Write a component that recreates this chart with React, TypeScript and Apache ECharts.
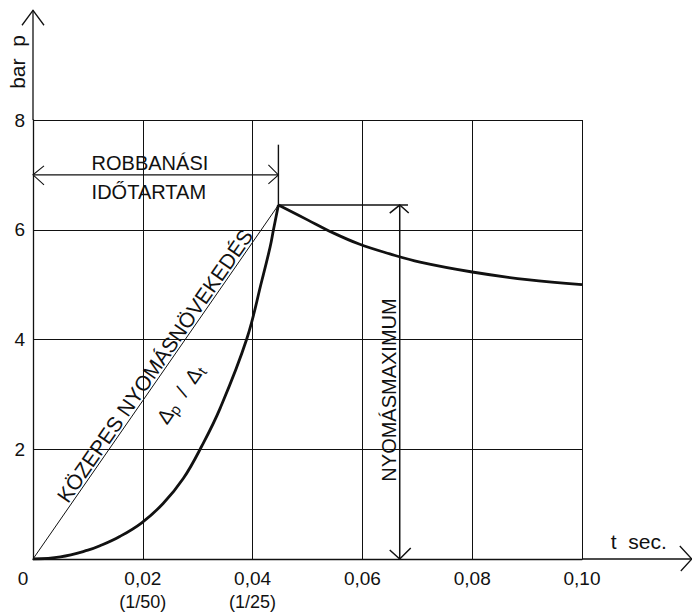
import React, { useEffect, useRef } from 'react';
import * as echarts from 'echarts';

// ---- data ----
const xTickLabels = ['', '0,02', '0,04', '0,06', '0,08', '0,10'];
const xTickSubLabels = ['', '(1/50)', '(1/25)', '', '', ''];
const yTickLabels = ['', '2', '4', '6', '8'];

// pressure rise during the explosion (t in s, p in bar)
const riseT = [0, 0.005, 0.01, 0.0122, 0.0158, 0.0198, 0.0237, 0.0274, 0.0307, 0.0341, 0.0389, 0.0417, 0.0432, 0.0438, 0.0447];
const riseP = [0, 0.04, 0.16, 0.24, 0.41, 0.66, 1.01, 1.47, 2.05, 2.75, 4.0, 5.08, 5.69, 6.0, 6.45];
// pressure decay after the maximum
const decayT = [0.0447, 0.05, 0.0541, 0.0594, 0.065, 0.0705, 0.08, 0.09, 0.1];
const decayP = [6.45, 6.18, 5.97, 5.74, 5.56, 5.41, 5.23, 5.09, 5.0];

// annotation anchor values (data space)
const durationLevelP = 7.0;
const peakTickTopP = 7.55;
const maxDimT = 0.0668;
const maxExtEndT = 0.0683;
const xAxisEndT = 0.12;
const yAxisEndP = 10;

const FONT = '"Liberation Sans", Arial, sans-serif';
const INK = '#111';

export default function App() {
  const ref = useRef<HTMLDivElement>(null);
  useEffect(() => {
    document.body.style.margin = '0';
    const chart = echarts.init(ref.current!, null, { renderer: 'svg' });
    const peakT = riseT[riseT.length - 1];
    const peakP = riseP[riseP.length - 1];
    chart.setOption({
      animation: false,
      backgroundColor: '#fff',
      grid: { left: 33, top: 120, right: 110, bottom: 53, containLabel: false, outerBoundsMode: 'none' },
      xAxis: {
        type: 'value', min: 0, max: 0.1, interval: 0.02,
        axisLine: { show: true, lineStyle: { color: INK, width: 1.3 } },
        axisTick: { show: false },
        splitLine: { show: true, showMinLine: true, showMaxLine: true, lineStyle: { color: INK, width: 1 } },
        axisLabel: {
          margin: 3,
          formatter: (v: number) => {
            const i = Math.round(v / 0.02);
            const main = xTickLabels[i] || '';
            const sub = xTickSubLabels[i] || '';
            if (!main) return '';
            return sub ? `{m|${main}}\n{s|${sub}}` : `{m|${main}}`;
          },
          rich: {
            m: { fontSize: 19, fontFamily: FONT, color: INK, lineHeight: 32 },
            s: { fontSize: 18, fontFamily: FONT, color: INK, lineHeight: 16 },
          },
        },
      },
      yAxis: {
        type: 'value', min: 0, max: 8, interval: 2,
        axisLine: { show: true, lineStyle: { color: INK, width: 1.3 } },
        axisTick: { show: false },
        splitLine: { show: true, showMinLine: true, showMaxLine: true, lineStyle: { color: INK, width: 1 } },
        axisLabel: {
          margin: 8, fontSize: 19, fontFamily: FONT, color: INK,
          formatter: (v: number) => yTickLabels[Math.round(v / 2)] || '',
        },
      },
      series: [
        {
          type: 'line', name: 'mean', data: [[0, 0], [peakT, peakP]],
          symbol: 'none', lineStyle: { color: INK, width: 1 }, silent: true,
        },
        {
          type: 'line', name: 'rise', data: riseT.map((t, i) => [t, riseP[i]]),
          smooth: 0.4, symbol: 'none', lineStyle: { color: INK, width: 2.8 },
        },
        {
          type: 'line', name: 'decay', data: decayT.map((t, i) => [t, decayP[i]]),
          smooth: 0.4, symbol: 'none', lineStyle: { color: INK, width: 2.8 },
        },
      ],
    });

    const px = (t: number, p: number) => chart.convertToPixel({ gridIndex: 0 }, [t, p]) as number[];
    const line = (a: number[], b: number[], w = 1.2) => ({
      type: 'line', silent: true,
      shape: { x1: a[0], y1: a[1], x2: b[0], y2: b[1] },
      style: { stroke: INK, lineWidth: w },
    });
    const poly = (pts: number[][], w = 1.2) => ({
      type: 'polyline', silent: true,
      shape: { points: pts },
      style: { stroke: INK, lineWidth: w, fill: 'none' },
    });
    const text = (x: number, y: number, s: string, size: number, rotation = 0, extra: any = {}) => ({
      type: 'text', x, y, rotation, silent: true,
      style: { text: s, fontSize: size, fontFamily: FONT, fill: INK, align: 'center', verticalAlign: 'middle', ...extra },
    });

    const o = px(0, 0);
    const pk = px(peakT, peakP);
    const yTop = px(0, yAxisEndP);
    const y8 = px(0, 8);
    const xEnd = px(xAxisEndT, 0);
    const x10 = px(0.1, 0);
    const dl = px(0, durationLevelP);
    const dr = px(peakT, durationLevelP);
    const tickTop = px(peakT, peakTickTopP);
    const extEnd = px(maxExtEndT, peakP);
    const mTop = px(maxDimT, peakP);
    const mBot = px(maxDimT, 0);

    const dx = pk[0] - o[0];
    const dy = pk[1] - o[1];
    const len = Math.hypot(dx, dy);
    const d = [dx / len, dy / len];
    const n = [d[1], -d[0]];
    const ang = Math.atan2(-dy, dx);
    const c1 = [o[0] + d[0] * len * 0.53 + n[0] * 10, o[1] + d[1] * len * 0.53 + n[1] * 10];
    const c2 = [o[0] + d[0] * len * 0.51 - n[0] * 27, o[1] + d[1] * len * 0.51 - n[1] * 27];

    const graphics: any[] = [
      // axis extensions with open arrowheads
      line(y8, yTop, 1.3),
      poly([[yTop[0] - 11, yTop[1] + 15], yTop, [yTop[0] + 11, yTop[1] + 15]], 1.3),
      line(x10, xEnd, 1.3),
      poly([[xEnd[0] - 12, xEnd[1] - 13], xEnd, [xEnd[0] - 11, xEnd[1] + 12]], 1.3),
      // explosion duration dimension
      line(dl, dr, 1.1),
      poly([[dl[0] + 11, dl[1] - 9], dl, [dl[0] + 11, dl[1] + 10]], 1.1),
      poly([[dr[0] - 10, dr[1] - 10], dr, [dr[0] - 10, dr[1] + 9]], 1.1),
      line(pk, tickTop, 1.4),
      // pressure maximum dimension
      line(pk, extEnd, 1.6),
      line(mTop, mBot, 1.5),
      poly([[mTop[0] - 10, mTop[1] + 8], mTop, [mTop[0] + 9, mTop[1] + 8]], 1.5),
      poly([[mBot[0] - 10, mBot[1] - 9], mBot, [mBot[0] + 11, mBot[1] - 11]], 1.5),
      // texts
      text(px(0.0213, 7.22)[0], px(0.0213, 7.22)[1], 'ROBBANÁSI', 20),
      text(px(0.0211, 6.69)[0], px(0.0211, 6.69)[1], 'IDŐTARTAM', 20),
      text(px(0.0649, 3.08)[0], px(0.0649, 3.08)[1], 'NYOMÁSMAXIMUM', 20, Math.PI / 2),
      text(c1[0], c1[1], 'KÖZEPES NYOMÁSNÖVEKEDÉS', 21, ang),
      {
        type: 'text', x: c2[0], y: c2[1], rotation: ang, silent: true,
        style: {
          text: '{a|Δ}{s|p}{a|  /  Δ}{s|t}', align: 'center', verticalAlign: 'middle', fill: INK,
          rich: {
            a: { fontSize: 20, fontFamily: FONT, fill: INK, lineHeight: 24 },
            s: { fontSize: 15, fontFamily: FONT, fill: INK, lineHeight: 12, verticalAlign: 'bottom' },
          },
        },
      },
      text(o[0] - 10, o[1] + 19, '0', 19),
      text(17, 62, 'bar  p', 21, Math.PI / 2),
      text(xEnd[0] - 81, xEnd[1] - 18, 't  sec.', 21, 0, { align: 'left' }),
    ];
    chart.setOption({ graphic: graphics });
    return () => chart.dispose();
  }, []);
  return <div ref={ref} style={{ position: 'absolute', left: 0, top: 0, width: 692, height: 612 }} />;
}
